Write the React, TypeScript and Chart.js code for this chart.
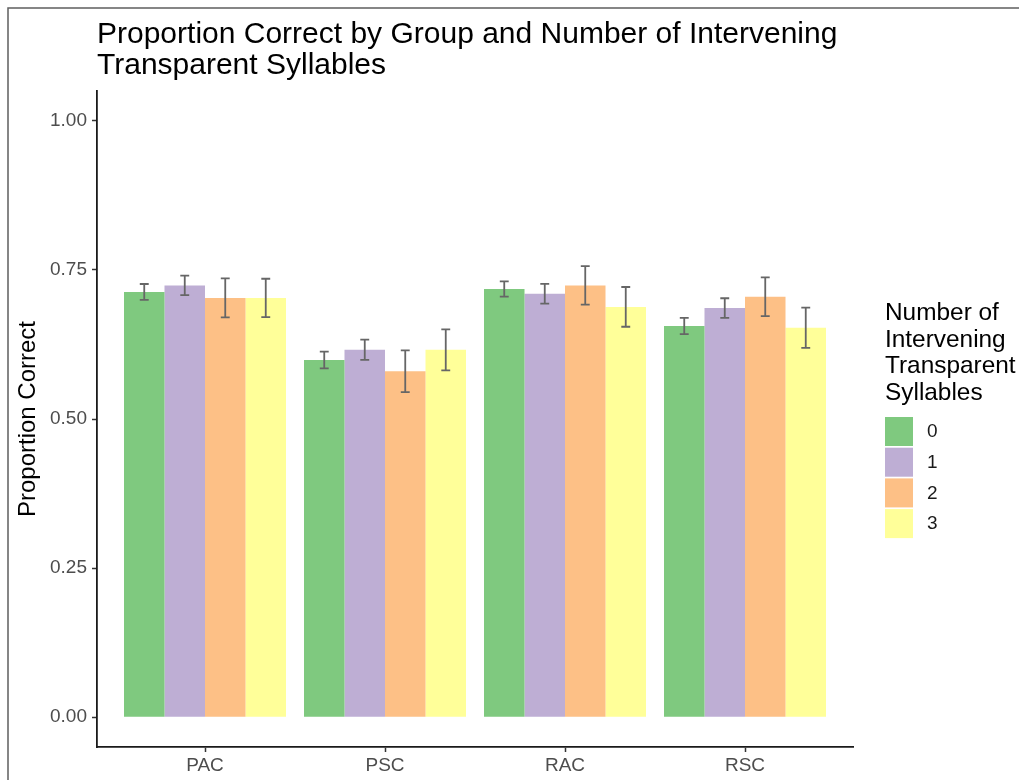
import React, { useEffect, useRef } from "react";
import { Chart, registerables } from "chart.js";

Chart.register(...registerables);

// Groups along the x axis
const groups = ["PAC", "PSC", "RAC", "RSC"];

// Number of intervening transparent syllables (legend levels)
const levels = ["0", "1", "2", "3"];
const levelColors = ["#7FC97F", "#BEAED4", "#FDC086", "#FFFF99"];

// Mean proportion correct per group, one array per level
const meanZero = [0.713, 0.599, 0.718, 0.656];
const meanOne = [0.724, 0.616, 0.710, 0.686];
const meanTwo = [0.703, 0.580, 0.724, 0.705];
const meanThree = [0.703, 0.616, 0.688, 0.653];

// Standard errors for the error bars
const seZero = [0.0134, 0.014, 0.0129, 0.0137];
const seOne = [0.0163, 0.017, 0.0165, 0.0165];
const seTwo = [0.0327, 0.0351, 0.0322, 0.0325];
const seThree = [0.0322, 0.0343, 0.0333, 0.0339];

const yTicks = [0, 0.25, 0.5, 0.75, 1.0];

const titleLines = [
  "Proportion Correct by Group and Number of Intervening",
  "Transparent Syllables",
];
const yAxisTitle = "Proportion Correct";
const legendTitleLines = ["Number of", "Intervening", "Transparent", "Syllables"];

const FONT = "'Liberation Sans', Arial, Helvetica, sans-serif";

const means = [meanZero, meanOne, meanTwo, meanThree];
const ses = [seZero, seOne, seTwo, seThree];

const errorBarPlugin = {
  id: "errorBars",
  afterDatasetsDraw(chart: any) {
    const { ctx } = chart;
    const yScale = chart.scales.y;
    ctx.save();
    ctx.strokeStyle = "#666666";
    ctx.lineWidth = 1.8;
    chart.data.datasets.forEach((ds: any, i: number) => {
      const meta = chart.getDatasetMeta(i);
      meta.data.forEach((bar: any, j: number) => {
        const m = means[i][j];
        const s = ses[i][j];
        const yHi = yScale.getPixelForValue(m + s);
        const yLo = yScale.getPixelForValue(m - s);
        const cap = bar.width * 0.11;
        ctx.beginPath();
        ctx.moveTo(bar.x, yHi);
        ctx.lineTo(bar.x, yLo);
        ctx.moveTo(bar.x - cap, yHi);
        ctx.lineTo(bar.x + cap, yHi);
        ctx.moveTo(bar.x - cap, yLo);
        ctx.lineTo(bar.x + cap, yLo);
        ctx.stroke();
      });
    });
    ctx.restore();
  },
};

const decorPlugin = {
  id: "decor",
  afterDraw(chart: any) {
    const { ctx, chartArea } = chart;
    ctx.save();

    // outer frame
    ctx.strokeStyle = "#5f5f5f";
    ctx.lineWidth = 1.5;
    ctx.strokeRect(8, 8, 3000, 3000);

    // title
    ctx.fillStyle = "#000000";
    ctx.font = `30px ${FONT}`;
    ctx.textAlign = "left";
    ctx.textBaseline = "alphabetic";
    titleLines.forEach((line, k) => {
      ctx.fillText(line, chartArea.left, 43 + k * 30.5);
    });

    // y axis title
    ctx.save();
    ctx.translate(35, (chartArea.top + chartArea.bottom) / 2);
    ctx.rotate(-Math.PI / 2);
    ctx.font = `24px ${FONT}`;
    ctx.textAlign = "center";
    ctx.fillText(yAxisTitle, 0, 0);
    ctx.restore();

    // legend
    const lx = 885;
    ctx.font = `24.4px ${FONT}`;
    ctx.textAlign = "left";
    legendTitleLines.forEach((line, k) => {
      ctx.fillText(line, lx, 320 + k * 26.5);
    });
    ctx.font = `19px ${FONT}`;
    ctx.textBaseline = "middle";
    chart.data.datasets.forEach((ds: any, i: number) => {
      const top = 417 + i * 30.7;
      ctx.fillStyle = ds.backgroundColor;
      ctx.fillRect(lx, top, 28, 29);
      ctx.fillStyle = "#1a1a1a";
      ctx.fillText(ds.label, 927, top + 15);
    });

    ctx.restore();
  },
};

export default function App() {
  const canvasRef = useRef<HTMLCanvasElement | null>(null);

  useEffect(() => {
    const canvas = canvasRef.current;
    if (!canvas) return;
    const chart = new Chart(canvas, {
      type: "bar",
      data: {
        datasets: levels.map((lvl, i) => ({
          label: lvl,
          data: groups.map((_, j) => ({ x: j + 1, y: means[i][j] })),
          backgroundColor: levelColors[i],
          borderWidth: 0,
          categoryPercentage: 0.9,
          barPercentage: 1.0,
        })),
      },
      options: {
        responsive: false,
        animation: false,
        devicePixelRatio: 1,
        layout: { padding: { left: 0, top: 91, right: 166, bottom: 0 } },
        plugins: {
          legend: { display: false },
          title: { display: false },
          tooltip: { enabled: false },
        },
        scales: {
          x: {
            type: "linear",
            min: 0.4,
            max: 4.6,
            offset: false,
            afterBuildTicks: (scale: any) => {
              scale.ticks = groups.map((_, j) => ({ value: j + 1 }));
            },
            afterFit: (scale: any) => {
              scale.height = 33;
            },
            ticks: {
              autoSkip: false,
              maxRotation: 0,
              padding: 2,
              color: "#4d4d4d",
              font: { family: FONT, size: 19 },
              callback: (v: any) => groups[Math.round(v) - 1] ?? "",
            },
            grid: {
              offset: false,
              drawOnChartArea: false,
              tickLength: 5,
              tickColor: "#333333",
              tickWidth: 1.5,
            },
            border: { display: true, color: "#1a1a1a", width: 1.8 },
          },
          y: {
            type: "linear",
            min: -0.05,
            max: 1.05,
            afterBuildTicks: (scale: any) => {
              scale.ticks = yTicks.map((v) => ({ value: v }));
            },
            afterFit: (scale: any) => {
              scale.width = 97;
            },
            ticks: {
              padding: 5,
              color: "#4d4d4d",
              font: { family: FONT, size: 19 },
              callback: (v: any) => Number(v).toFixed(2),
            },
            grid: {
              drawOnChartArea: false,
              tickLength: 5,
              tickColor: "#333333",
              tickWidth: 1.5,
            },
            border: { display: true, color: "#1a1a1a", width: 1.8 },
          },
        },
      },
      plugins: [errorBarPlugin, decorPlugin],
    } as any);
    return () => chart.destroy();
  }, []);

  return (
    <div style={{ position: "fixed", left: 0, top: 0, width: 1019, height: 780, background: "#ffffff" }}>
      <canvas ref={canvasRef} width={1019} height={780} style={{ display: "block" }} />
    </div>
  );
}
